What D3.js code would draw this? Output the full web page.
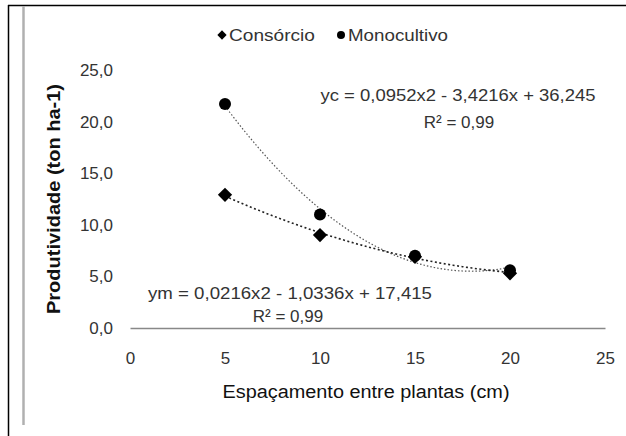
<!DOCTYPE html>
<html>
<head>
<meta charset="utf-8">
<style>
  body { margin: 0; background: #fff; }
  svg { display: block; font-family: Arial, "Liberation Sans", sans-serif; }
</style>
</head>
<body>
<svg width="626" height="436"></svg>
<script src="https://cdn.jsdelivr.net/npm/d3@7"></script>
<script>
// data
var spacing = [5, 10, 15, 20];
var consorcio = [12.9, 9.0, 6.9, 5.3];
var monocultivo = [21.7, 11.0, 7.0, 5.6];
var xTicks = [0, 5, 10, 15, 20, 25];
var yTicks = [0, 5, 10, 15, 20, 25];
// trendline coefficients as printed on the chart (a*x^2 + b*x + c)
var fitUpper = [0.0952, -3.4216, 36.245];
var fitLower = [0.0216, -1.0336, 17.415];

var svg = d3.select("svg");

// outer frame pieces
svg.append("line").attr("x1", 8.5).attr("x2", 8.5).attr("y1", 5).attr("y2", 436)
  .attr("stroke", "#000").attr("stroke-width", 1.5);
svg.append("line").attr("x1", 8).attr("x2", 626).attr("y1", 5.5).attr("y2", 5.5)
  .attr("stroke", "#000").attr("stroke-width", 1.5);
svg.append("line").attr("x1", 23.5).attr("x2", 23.5).attr("y1", 6).attr("y2", 425)
  .attr("stroke", "#b0b0b0").attr("stroke-width", 2.5);

var x = d3.scaleLinear().domain([0, 25]).range([130, 605]);
var y = d3.scaleLinear().domain([0, 25]).range([328, 70]);

// x axis
var xAxis = svg.append("g").attr("transform", "translate(0," + y(0) + ")")
  .call(d3.axisBottom(x).tickValues(xTicks).tickSize(0).tickPadding(24));
xAxis.select(".domain").attr("stroke", "#888").attr("stroke-width", 1.5);
xAxis.selectAll("text").attr("font-size", 17).attr("fill", "#333")
  .attr("font-family", "Arial, 'Liberation Sans', sans-serif");

// y axis
var yAxis = svg.append("g").attr("transform", "translate(117,0)")
  .call(d3.axisLeft(y).tickValues(yTicks).tickSize(0).tickPadding(4)
    .tickFormat(function(d) { return d3.format(".1f")(d).replace(".", ","); }));
yAxis.select(".domain").remove();
yAxis.selectAll("text").attr("font-size", 17).attr("fill", "#333")
  .attr("font-family", "Arial, 'Liberation Sans', sans-serif");

// trendlines
function poly(c) { return function(t) { return c[0] * t * t + c[1] * t + c[2]; }; }
var xs = d3.range(spacing[0], spacing[spacing.length - 1] + 0.01, 0.25);
var line = d3.line().x(function(d) { return x(d[0]); }).y(function(d) { return y(d[1]); });

var pu = poly(fitUpper), pl = poly(fitLower);
svg.append("path").attr("d", line(xs.map(function(t) { return [t, pu(t)]; })))
  .attr("fill", "none").attr("stroke", "#555").attr("stroke-width", 1.2)
  .attr("stroke-dasharray", "1.5,2");
svg.append("path").attr("d", line(xs.map(function(t) { return [t, pl(t)]; })))
  .attr("fill", "none").attr("stroke", "#222").attr("stroke-width", 1.6)
  .attr("stroke-dasharray", "2,2.5");

// markers
svg.append("g").selectAll("path").data(spacing).join("path")
  .attr("transform", function(d, i) { return "translate(" + x(d) + "," + y(consorcio[i]) + ")"; })
  .attr("d", d3.symbol().type(d3.symbolDiamond2).size(130))
  .attr("fill", "#000");
svg.append("g").selectAll("circle").data(spacing).join("circle")
  .attr("cx", function(d) { return x(d); })
  .attr("cy", function(d, i) { return y(monocultivo[i]); })
  .attr("r", 6).attr("fill", "#000");

// equations
var eq = svg.append("g").attr("font-size", 17).attr("fill", "#333").attr("text-anchor", "middle");
eq.append("text").attr("x", 458).attr("y", 101).attr("textLength", 275).attr("lengthAdjust", "spacingAndGlyphs")
  .text("yc = 0,0952x2 - 3,4216x + 36,245");
eq.append("text").attr("x", 459).attr("y", 128).text("R² = 0,99");
eq.append("text").attr("x", 290).attr("y", 299).attr("textLength", 284).attr("lengthAdjust", "spacingAndGlyphs")
  .text("ym = 0,0216x2 - 1,0336x + 17,415");
eq.append("text").attr("x", 288).attr("y", 322).text("R² = 0,99");

// legend
var lg = svg.append("g").attr("font-size", 17).attr("fill", "#333");
lg.append("path").attr("transform", "translate(222,35)")
  .attr("d", d3.symbol().type(d3.symbolDiamond2).size(55)).attr("fill", "#000");
lg.append("text").attr("x", 229).attr("y", 41).attr("textLength", 86).attr("lengthAdjust", "spacingAndGlyphs").text("Consórcio");
lg.append("circle").attr("cx", 341).attr("cy", 35).attr("r", 4).attr("fill", "#000");
lg.append("text").attr("x", 348).attr("y", 41).attr("textLength", 100).attr("lengthAdjust", "spacingAndGlyphs").text("Monocultivo");

// axis titles
svg.append("text").attr("x", 366).attr("y", 398).attr("text-anchor", "middle")
  .attr("font-size", 18).attr("fill", "#111").attr("textLength", 287).attr("lengthAdjust", "spacingAndGlyphs")
  .text("Espaçamento entre plantas (cm)");
svg.append("text").attr("transform", "translate(60,199) rotate(-90)").attr("text-anchor", "middle")
  .attr("font-size", 18).attr("font-weight", "bold").attr("fill", "#111")
  .attr("textLength", 230).attr("lengthAdjust", "spacingAndGlyphs")
  .text("Produtividade (ton ha-1)");
</script>
</body>
</html>
